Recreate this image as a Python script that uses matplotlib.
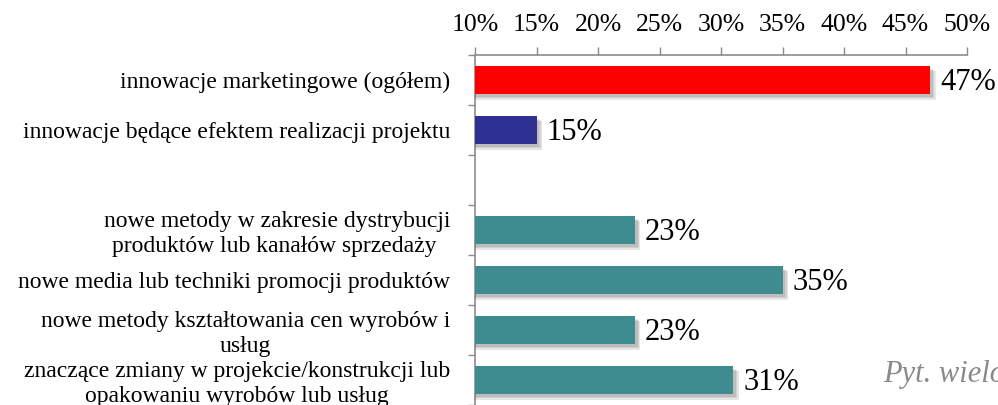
import numpy as np
import matplotlib
matplotlib.use("Agg")
import matplotlib.pyplot as plt
import matplotlib.patheffects as pe

plt.rcParams['font.family'] = ['Liberation Serif', 'DejaVu Serif']

categories = [
    "innowacje marketingowe (ogółem)",
    "innowacje będące efektem realizacji projektu",
    "",
    "nowe metody w zakresie dystrybucji\nproduktów lub kanałów sprzedaży ",
    "nowe media lub techniki promocji produktów",
    "nowe metody kształtowania cen wyrobów i\nusług",
    "znaczące zmiany w projekcie/konstrukcji lub\nopakowaniu wyrobów lub usług",
]
values = [47, 15, np.nan, 23, 35, 23, 31]
x_ticks = [10, 15, 20, 25, 30, 35, 40, 45, 50]
note = "Pyt. wielokrotnego wyboru"

colors = ["#FF0000", "#2E3192", "none", "#3E8C8F", "#3E8C8F", "#3E8C8F", "#3E8C8F"]

fig = plt.figure(figsize=(9.98, 4.05), dpi=100)
ax = fig.add_axes([475/998, 0.0, (967-475)/998, (405-55)/405])

pos = np.arange(len(categories))
bars = ax.barh(pos, values, height=0.57, color=colors, zorder=3)
shadow = [pe.SimplePatchShadow(offset=(o, -o), shadow_rgbFace='#404040', alpha=0.13)
          for o in (4, 3, 2)]
for b in bars:
    b.set_path_effects(shadow + [pe.Normal()])

for p, v in zip(pos, values):
    if np.isnan(v):
        continue
    ax.text(v + 0.8, p + 0.06, f"{v:.0f}%", va='center', ha='left', fontsize=22, zorder=4)

ax.set_xlim(10, 50)
ax.set_ylim(len(categories) - 0.5, -0.5)

ax.xaxis.tick_top()
ax.set_xticks(x_ticks)
ax.set_xticklabels([f"{t}%" for t in x_ticks], fontsize=18.5)
ax.tick_params(axis='x', direction='out', length=6, width=1, color='#8C8C8C', pad=8)

ax.set_yticks(pos)
ax.set_yticklabels(categories, fontsize=17, multialignment='center', linespacing=1.2)
ax.set_yticks(np.arange(len(categories) + 1) - 0.5, minor=True)
ax.tick_params(axis='y', which='major', length=0, pad=18)
ax.tick_params(axis='y', which='minor', length=5, width=1, color='#8C8C8C', direction='out')

for s in ['right', 'bottom']:
    ax.spines[s].set_visible(False)
for s in ['top', 'left']:
    ax.spines[s].set_color('#8C8C8C')
    ax.spines[s].set_linewidth(1.2)

fig.text(883/998, 1 - 374/405, note, fontsize=22, style='italic', color='#8A8A8A',
         ha='left', va='center')

fig.savefig("out.png", dpi=100)
